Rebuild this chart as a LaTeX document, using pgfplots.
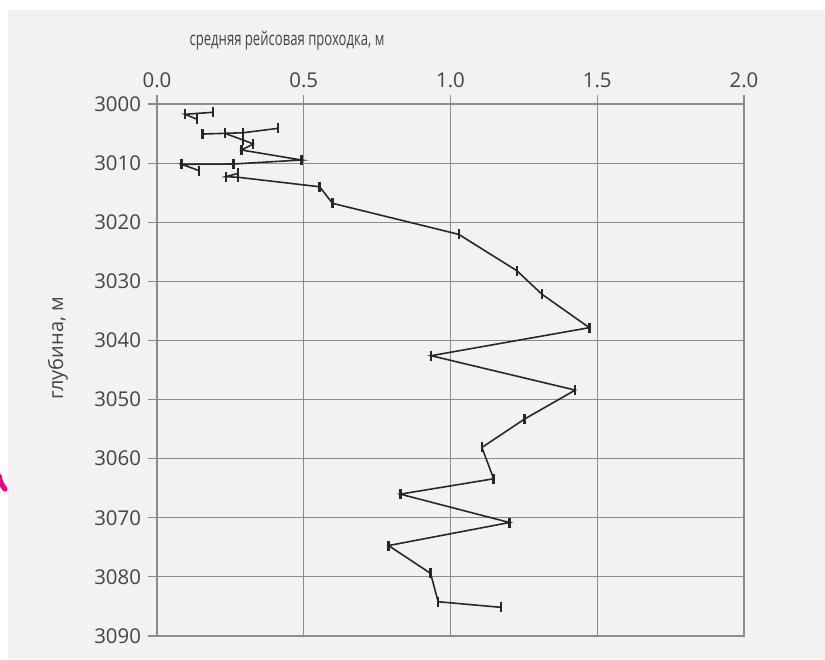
\documentclass[border=0pt]{standalone}
\usepackage{fontspec}
\setmainfont{Open Sans}
\newfontfamily\condfont{Open Sans}[FakeStretch=0.69]
\usepackage{pgfplots}
\pgfplotsset{compat=1.18}

\definecolor{bggray}{RGB}{242,242,242}
\definecolor{gridgray}{RGB}{140,140,140}
\definecolor{txtgray}{RGB}{68,68,68}
\definecolor{linegray}{RGB}{40,40,40}
\definecolor{edgepink}{RGB}{228,0,128}

\begin{document}
\begin{tikzpicture}
% page background: white margin top/left, light gray panel
\fill[white] (-78.5pt,-11.5pt) rectangle (334pt,318pt);
\fill[bggray] (-74.5pt,-11.5pt) rectangle (334pt,313pt);
% stray pink stroke at the left edge of the scan
\draw[edgepink, line width=2.6pt, line cap=round] (-79pt,80pt) to[bend right=15] (-76pt,73.5pt);
\begin{axis}[
    scale only axis,
    width=293.5pt, height=266pt,
    xmin=0, xmax=2, ymin=3000, ymax=3090,
    y dir=reverse,
    xtick={0,0.5,1,1.5,2},
    ytick={3000,3010,...,3090},
    xticklabel pos=right, xtick pos=right,
    ytick pos=left,
    tick align=outside,
    major tick length=4.5pt,
    grid=major,
    grid style={gridgray, line width=0.6pt},
    axis line style={gridgray, line width=0.6pt},
    every tick/.style={gridgray, line width=0.6pt},
    /pgf/number format/assume math mode=true,
    xticklabel style={/pgf/number format/.cd, fixed, fixed zerofill, precision=1},
    yticklabel style={/pgf/number format/1000 sep={}},
    ticklabel style={font=\fontsize{10.2}{12}\selectfont, text=txtgray},
    xlabel={средняя рейсовая проходка, м},
    ylabel={глубина, м},
    xlabel style={font=\condfont\fontsize{9.5}{11}\selectfont, text=txtgray,
        at={(axis description cs:0.2215,1.12)}, anchor=center},
    ylabel style={font=\fontsize{10}{12}\selectfont, text=txtgray,
        at={(axis description cs:-0.1687,0.541)}, anchor=center},
    unbounded coords=jump,
]
\addplot[linegray, line width=0.8pt, mark=|, mark size=2.5pt,
         mark options={black!85, line width=1.2pt, solid}] table {
x     depth
0.1915 3001.40
0.0952 3001.74
0.137  3002.59
nan    nan
0.155  3005.08
0.231  3004.96
0.294  3004.86
0.413  3004.11
nan    nan
0.231  3004.96
0.294  3006.10
0.328  3006.77
0.288  3007.78
0.492  3009.47
0.260  3010.15
0.084  3010.20
0.144  3011.28
nan    nan
0.277  3011.73
0.235  3012.29
0.277  3012.40
0.554  3014.00
0.598  3016.80
1.028  3022.05
1.226  3028.20
1.312  3032.20
1.473  3037.84
0.934  3042.58
1.425  3048.40
1.252  3053.30
1.107  3058.10
1.147  3063.40
0.829  3066.00
1.201  3070.80
0.789  3074.70
0.932  3079.40
0.958  3084.20
1.172  3085.15
};
\end{axis}
\pgfresetboundingbox
\path (-78.5pt,-11.5pt) rectangle (334pt,318pt);
\end{tikzpicture}
\end{document}
